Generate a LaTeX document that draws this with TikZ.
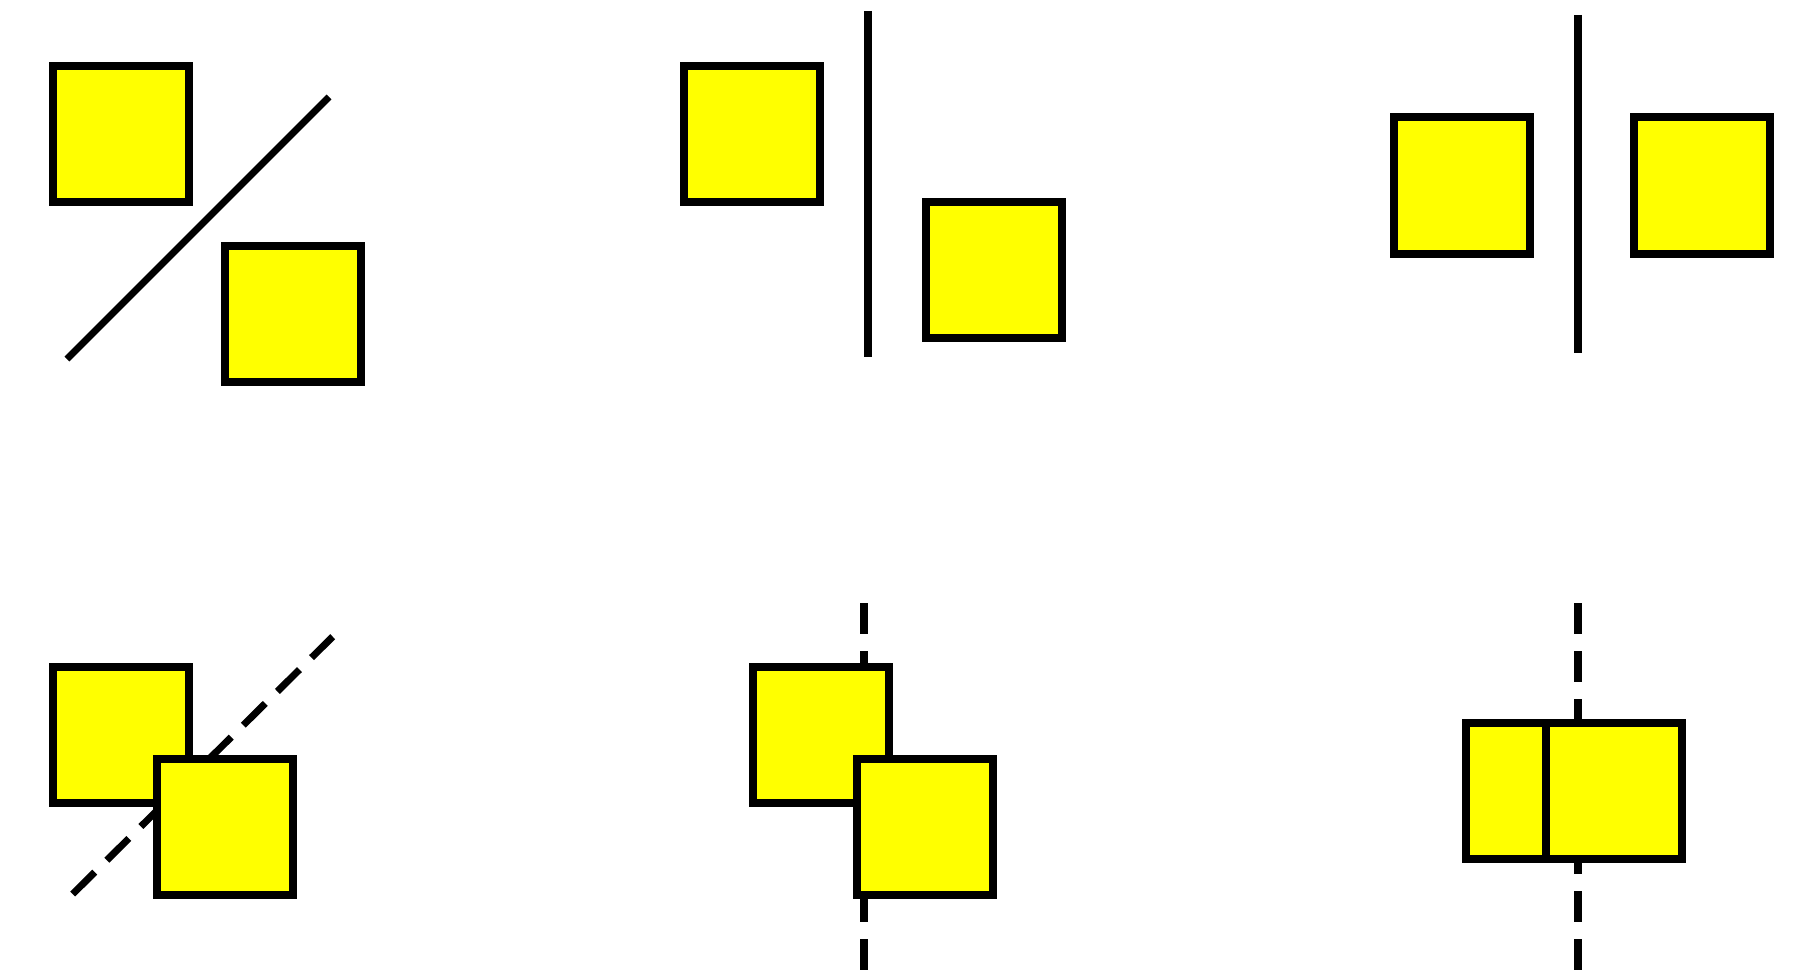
\documentclass[tikz,border=0pt]{standalone}
\definecolor{sqyellow}{RGB}{255,255,0}
\begin{document}
\begin{tikzpicture}[x=1pt,y=-1pt,
  sq/.style={draw=black,fill=sqyellow,line width=8pt,rectangle,minimum size=136pt,inner sep=0pt,outer sep=0pt},
  solidline/.style={draw=black,line width=8pt},
  dashline/.style={draw=black,line width=8pt,dash pattern=on 31pt off 17pt}]
\useasboundingbox (0,0) rectangle (1802,979);
% panel 1
\coordinate (p1a) at (67,359);
\coordinate (p1b) at (329,97);
\draw[solidline,line width=7pt] (p1a) -- (p1b);
\node[sq] (A) at (120.5,134) {};
\node[sq] (B) at (292.5,314) {};
% panel 2
\coordinate (p2a) at (868.3,11);
\coordinate (p2b) at (868.3,357);
\draw[solidline] (p2a) -- (p2b);
\node[sq] (C) at (752.3,133.8) {};
\node[sq] (D) at (993.5,269.8) {};
% panel 3
\coordinate (p3a) at (1577.7,15);
\coordinate (p3b) at (1577.7,352.7);
\draw[solidline] (p3a) -- (p3b);
\node[sq] (E) at (1462,185.5) {};
\node[sq] (F) at (1702.2,185.5) {};
% panel 4
\coordinate (p4a) at (72.7,894);
\coordinate (p4b) at (332.7,636.7);
\draw[dashline,line width=7pt] (p4a) -- (p4b);
\node[sq] (G) at (120.5,734.5) {};
\node[sq] (H) at (224.5,826.8) {};
% panel 5
\coordinate (p5a) at (864.3,603);
\coordinate (p5b) at (864.3,970);
\draw[dashline] (p5a) -- (p5b);
\node[sq] (I) at (821,734.5) {};
\node[sq] (J) at (925,826.8) {};
% panel 6
\coordinate (p6a) at (1578.3,603);
\coordinate (p6b) at (1578.3,970);
\draw[dashline] (p6a) -- (p6b);
\node[sq] (L) at (1534.2,790.9) {};
\node[sq] (M) at (1614,790.9) {};
\end{tikzpicture}
\end{document}
